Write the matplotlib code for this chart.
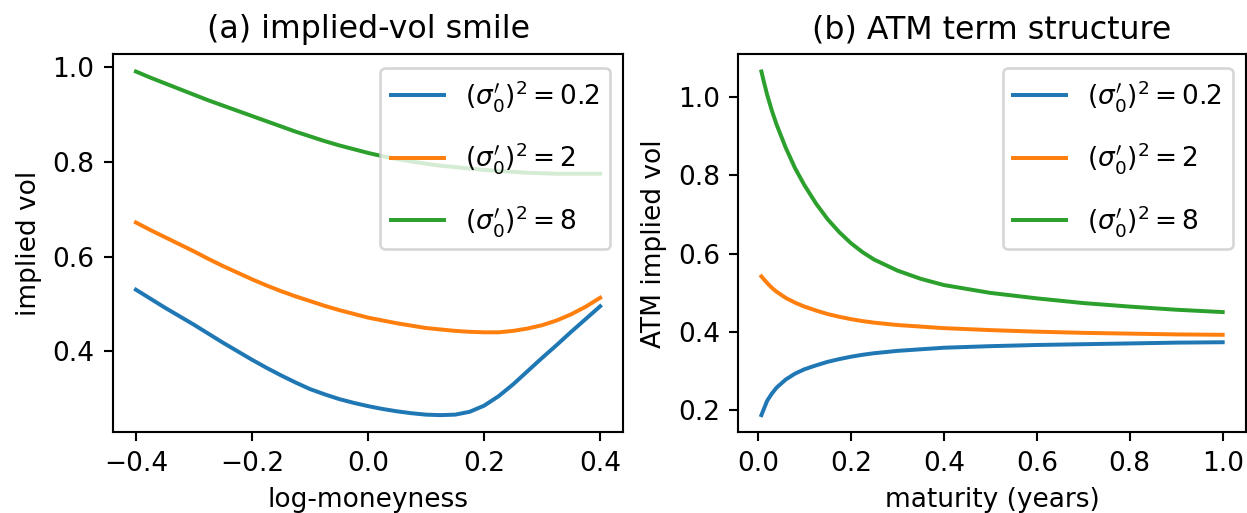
import matplotlib
matplotlib.use("Agg")
import matplotlib.pyplot as plt

# (a) implied-vol smile across log-moneyness
log_moneyness = [-0.400, -0.375, -0.350, -0.325, -0.300, -0.275, -0.250, -0.225,
                 -0.200, -0.175, -0.150, -0.125, -0.100, -0.075, -0.050, -0.025,
                 0.000, 0.025, 0.050, 0.075, 0.100, 0.125, 0.150, 0.175,
                 0.200, 0.225, 0.250, 0.275, 0.300, 0.325, 0.350, 0.375, 0.400]
smile_02 = [0.530, 0.511, 0.492, 0.474, 0.456, 0.437, 0.418, 0.400,
            0.382, 0.365, 0.349, 0.334, 0.320, 0.309, 0.299, 0.291,
            0.284, 0.278, 0.273, 0.269, 0.266, 0.265, 0.266, 0.272,
            0.285, 0.305, 0.330, 0.358, 0.386, 0.413, 0.441, 0.468, 0.495]
smile_2 = [0.672, 0.656, 0.641, 0.626, 0.611, 0.595, 0.580, 0.566,
           0.552, 0.539, 0.527, 0.516, 0.506, 0.496, 0.487, 0.479,
           0.471, 0.465, 0.459, 0.454, 0.449, 0.446, 0.443, 0.441,
           0.440, 0.440, 0.443, 0.448, 0.455, 0.465, 0.478, 0.494, 0.513]
smile_8 = [0.991, 0.978, 0.966, 0.954, 0.942, 0.930, 0.919, 0.908,
           0.897, 0.886, 0.875, 0.864, 0.854, 0.844, 0.835, 0.827,
           0.819, 0.812, 0.806, 0.801, 0.796, 0.792, 0.789, 0.786,
           0.783, 0.781, 0.779, 0.777, 0.776, 0.775, 0.775, 0.775, 0.775]

# (b) ATM term structure across maturity
maturity = [0.0075, 0.0125, 0.02, 0.03, 0.04, 0.06, 0.08, 0.10, 0.125, 0.15,
            0.175, 0.20, 0.225, 0.25, 0.30, 0.35, 0.40, 0.50, 0.60, 0.70,
            0.80, 0.90, 1.00]
atm_02 = [0.188, 0.203, 0.225, 0.243, 0.258, 0.279, 0.294, 0.305, 0.315, 0.324,
          0.331, 0.337, 0.342, 0.346, 0.352, 0.356, 0.360, 0.364, 0.367, 0.369,
          0.371, 0.373, 0.374]
atm_2 = [0.542, 0.535, 0.525, 0.513, 0.503, 0.487, 0.475, 0.465, 0.455, 0.446,
         0.439, 0.433, 0.428, 0.424, 0.418, 0.414, 0.410, 0.405, 0.401, 0.398,
         0.396, 0.394, 0.393]
atm_8 = [1.065, 1.040, 1.005, 0.965, 0.930, 0.870, 0.818, 0.775, 0.728, 0.688,
         0.655, 0.627, 0.604, 0.585, 0.557, 0.536, 0.520, 0.500, 0.486, 0.474,
         0.465, 0.457, 0.451]

labels = [r"$(\sigma_0')^2 = 0.2$", r"$(\sigma_0')^2 = 2$", r"$(\sigma_0')^2 = 8$"]

fig = plt.figure(figsize=(1247 / 190, 513 / 190), dpi=190)
ax1 = fig.add_axes([0.0904, 0.1573, 0.4095, 0.7368])
ax2 = fig.add_axes([0.5921, 0.1573, 0.4069, 0.7368])

for ys, lab in zip([smile_02, smile_2, smile_8], labels):
    ax1.plot(log_moneyness, ys, label=lab)
ax1.set_title("(a) implied-vol smile")
ax1.set_xlabel("log-moneyness")
ax1.set_ylabel("implied vol")
ax1.set_xticks([-0.4, -0.2, 0.0, 0.2, 0.4])
ax1.set_yticks([0.4, 0.6, 0.8, 1.0])
ax1.legend(loc="upper right", labelspacing=1.0)

for ys, lab in zip([atm_02, atm_2, atm_8], labels):
    ax2.plot(maturity, ys, label=lab)
ax2.set_title("(b) ATM term structure")
ax2.set_xlabel("maturity (years)")
ax2.set_ylabel("ATM implied vol")
ax2.set_xticks([0.0, 0.2, 0.4, 0.6, 0.8, 1.0])
ax2.set_yticks([0.2, 0.4, 0.6, 0.8, 1.0])
ax2.legend(loc="upper right", labelspacing=1.0)

fig.savefig("out.png", dpi=190)
